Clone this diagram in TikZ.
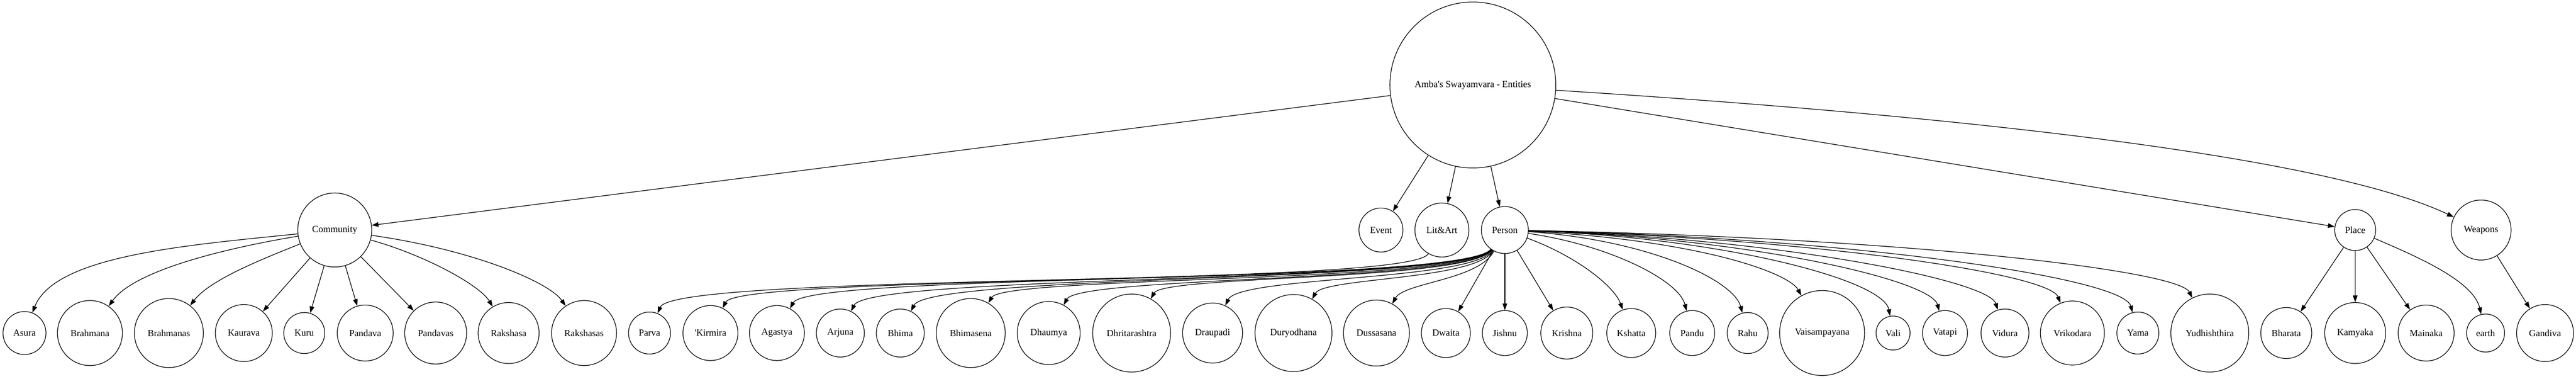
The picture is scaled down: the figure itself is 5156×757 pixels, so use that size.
\documentclass[tikz,border=0pt]{standalone}
\usepackage{fontspec}
\setmainfont{Liberation Serif}
\usetikzlibrary{arrows.meta}

\begin{document}
\begin{tikzpicture}[x=0.5pt, y=-0.5pt]
	\tikzset{
		entity/.style={circle, draw=black, line width=0.65pt, inner sep=0pt, text centered, font=\fontsize{9.45}{11}\selectfont},
		link/.style={-{Triangle[length=6.7pt, width=4.6pt]}, line width=0.65pt},
	}
	\useasboundingbox (0,0) rectangle (5156,757);

	% root and categories
	\node[entity, minimum size=166pt] (root) at (2948,170) {Amba\textquotesingle s Swayamvara - Entities};
	\node[entity, minimum size=74pt] (community) at (670,460) {Community};
	\node[entity, minimum size=44pt] (event) at (2764,460) {Event};
	\node[entity, minimum size=54pt] (litart) at (2886,460) {Lit\&Art};
	\node[entity, minimum size=47pt] (person) at (3012,460) {Person};
	\node[entity, minimum size=41pt] (place) at (4714,460) {Place};
	\node[entity, minimum size=60pt] (weapons) at (4966,460) {Weapons};

	% communities
	\node[entity, minimum size=43pt] (asura) at (49,666) {Asura};
	\node[entity, minimum size=65pt] (brahmana) at (180,666) {Brahmana};
	\node[entity, minimum size=69pt] (brahmanas) at (338,666) {Brahmanas};
	\node[entity, minimum size=57pt] (kaurava) at (488,666) {Kaurava};
	\node[entity, minimum size=41pt] (kuru) at (609,666) {Kuru};
	\node[entity, minimum size=56pt] (pandava) at (731,666) {Pandava};
	\node[entity, minimum size=62pt] (pandavas) at (872,666) {Pandavas};
	\node[entity, minimum size=61pt] (rakshasa) at (1018,666) {Rakshasa};
	\node[entity, minimum size=65pt] (rakshasas) at (1169,666) {Rakshasas};

	% lit and art
	\node[entity, minimum size=42pt] (parva) at (1300,666) {Parva};

	% persons
	\node[entity, minimum size=55pt] (kirmira) at (1422,666) {\textquotesingle Kirmira};
	\node[entity, minimum size=55pt] (agastya) at (1555,666) {Agastya};
	\node[entity, minimum size=48pt] (arjuna) at (1682,666) {Arjuna};
	\node[entity, minimum size=48pt] (bhima) at (1802,666) {Bhima};
	\node[entity, minimum size=69pt] (bhimasena) at (1943,666) {Bhimasena};
	\node[entity, minimum size=63pt] (dhaumya) at (2099,666) {Dhaumya};
	\node[entity, minimum size=78pt] (dhritarashtra) at (2265,666) {Dhritarashtra};
	\node[entity, minimum size=60pt] (draupadi) at (2427,666) {Draupadi};
	\node[entity, minimum size=77pt] (duryodhana) at (2589,666) {Duryodhana};
	\node[entity, minimum size=66pt] (dussasana) at (2755,666) {Dussasana};
	\node[entity, minimum size=49pt] (dwaita) at (2894,666) {Dwaita};
	\node[entity, minimum size=45pt] (jishnu) at (3012,666) {Jishnu};
	\node[entity, minimum size=52pt] (krishna) at (3136,666) {Krishna};
	\node[entity, minimum size=49pt] (kshatta) at (3265,666) {Kshatta};
	\node[entity, minimum size=45pt] (pandu) at (3387,666) {Pandu};
	\node[entity, minimum size=41pt] (rahu) at (3498,666) {Rahu};
	\node[entity, minimum size=85pt] (vaisampayana) at (3647,666) {Vaisampayana};
	\node[entity, minimum size=34pt] (vali) at (3789,666) {Vali};
	\node[entity, minimum size=45pt] (vatapi) at (3893,666) {Vatapi};
	\node[entity, minimum size=48pt] (vidura) at (4013,666) {Vidura};
	\node[entity, minimum size=64pt] (vrikodara) at (4148,666) {Vrikodara};
	\node[entity, minimum size=42pt] (yama) at (4279,666) {Yama};
	\node[entity, minimum size=78pt] (yudhishthira) at (4423,666) {Yudhishthira};

	% places and weapons
	\node[entity, minimum size=51pt] (bharata) at (4576,666) {Bharata};
	\node[entity, minimum size=61pt] (kamyaka) at (4714,666) {Kamyaka};
	\node[entity, minimum size=56pt] (mainaka) at (4856,666) {Mainaka};
	\node[entity, minimum size=38pt] (earth) at (4975,666) {earth};
	\node[entity, minimum size=57pt] (gandiva) at (5094,666) {Gandiva};

	% root edges
	\foreach \c in {community, event, litart, person, place}
		\draw[link] (root) -- (\c);
	\draw[link] (root) .. controls (3900,230) and (4650,310) .. (weapons);

	% community edges
	\foreach \c in {kaurava, kuru, pandava, pandavas}
		\draw[link] (community) -- (\c);
	\foreach \c/\ax/\ay/\bx/\by in {asura/380/490/110/510, brahmana/430/500/265/545, brahmanas/520/520/420/560, rakshasa/850/510/960/570, rakshasas/950/500/1100/565}
		\draw[link] (community) .. controls (\ax,\ay) and (\bx,\by) .. (\c);

	\draw[link] (litart) .. controls (2820,575) and (1350,545) .. (parva);

	% person edges
	\foreach \c in {dwaita, jishnu, krishna}
		\draw[link] (person) -- (\c);
	\foreach \c/\ax/\ay/\bx/\by in {kirmira/2930/572/1480/548, agastya/2935/570/1620/545, arjuna/2935/568/1740/548, bhima/2940/566/1860/548, bhimasena/2940/566/2010/552, dhaumya/2945/564/2160/552, dhritarashtra/2945/562/2330/550, draupadi/2950/562/2480/552, duryodhana/2955/560/2650/555, dussasana/2960/560/2810/565}
		\draw[link] (person) .. controls (\ax,\ay) and (\bx,\by) .. (\c);
	\foreach \c/\ax/\ay/\bx/\by in {kshatta/3150/510/3230/570, pandu/3220/490/3360/560, rahu/3300/480/3470/560, vaisampayana/3400/480/3580/545, vali/3450/475/3770/560, vatapi/3500/475/3865/560, vidura/3550/475/3980/560, vrikodara/3600/475/4100/545, yama/3700/475/4250/555, yudhishthira/3800/475/4360/540}
		\draw[link] (person) .. controls (\ax,\ay) and (\bx,\by) .. (\c);

	% place and weapon edges
	\foreach \c in {bharata, kamyaka, mainaka}
		\draw[link] (place) -- (\c);
	\draw[link] (place) .. controls (4830,510) and (4950,560) .. (earth);
	\draw[link] (weapons) -- (gandiva);
\end{tikzpicture}
\end{document}
